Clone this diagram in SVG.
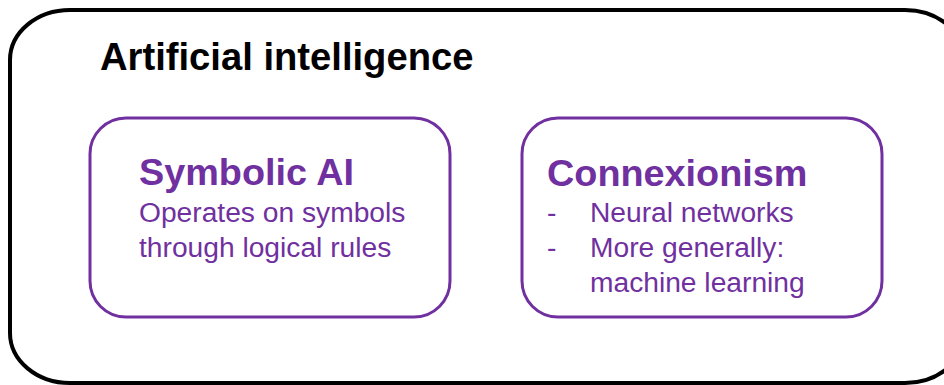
<svg xmlns="http://www.w3.org/2000/svg" width="944" height="385" viewBox="0 0 944 385">
<style>
.outer{fill:#fff;stroke:#000;stroke-width:4}
.box{fill:#fff;stroke:#7030A0;stroke-width:3}
.t{font-family:"Liberation Sans",Arial,sans-serif}
.title{font-size:38.2px;font-weight:bold;fill:#000}
.head{font-size:37.8px;font-weight:bold;fill:#7030A0}
.body{font-size:28.2px;fill:#7030A0}
</style>
<rect width="944" height="385" fill="#fff"/>
<g id="ai">
<rect class="outer" x="10" y="10" width="955" height="373" rx="60" ry="50"/>
<text class="t title" x="100" y="70">Artificial intelligence</text>
</g>
<g id="symbolic">
<rect class="box" x="90" y="118" width="360" height="199" rx="36" ry="36"/>
<text class="t head" x="139" y="185">Symbolic AI</text>
<text class="t body" x="139" y="222">Operates on symbols</text>
<text class="t body" x="139" y="257">through logical rules</text>
</g>
<g id="connexionism">
<rect class="box" x="522" y="118" width="360" height="199" rx="36" ry="36"/>
<text class="t head" x="547" y="186">Connexionism</text>
<text class="t body" x="547" y="222">-</text>
<text class="t body" x="590" y="222">Neural networks</text>
<text class="t body" x="547" y="257">-</text>
<text class="t body" x="590" y="257">More generally:</text>
<text class="t body" x="590" y="292">machine learning</text>
</g>
<g id="connectors"></g>
</svg>
